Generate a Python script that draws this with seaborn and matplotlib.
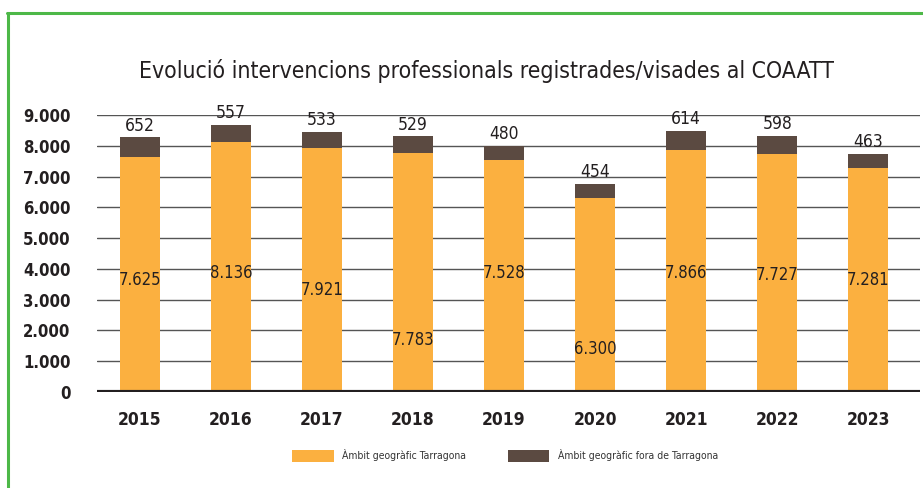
import numpy as np
import pandas as pd
import matplotlib
matplotlib.use('Agg')
import matplotlib.pyplot as plt
from matplotlib.lines import Line2D
from matplotlib.patches import Patch
import seaborn as sns

# data
years = ['2015', '2016', '2017', '2018', '2019', '2020', '2021', '2022', '2023']
tarragona = [7625, 8136, 7921, 7783, 7528, 6300, 7866, 7727, 7281]
fora = [652, 557, 533, 529, 480, 454, 614, 598, 463]
# vertical placement of the inner labels as drawn in the picture
inner_label_y = [3650, 3850, 3300, 1700, 3850, 1400, 3850, 3800, 3650]

ORANGE = '#FBB040'
BROWN = '#5B4A41'
GREEN = '#4DB848'
TEXT = '#231F20'

sns.set_theme(style='white')
plt.rcParams['font.family'] = ['DejaVu Sans']
plt.rcParams['font.stretch'] = 'condensed'


def fmt(v):
    return f'{v:,}'.replace(',', '.')


df = pd.DataFrame({'year': years, 'tarragona': tarragona, 'fora': fora})
df['total'] = df['tarragona'] + df['fora']

fig = plt.figure(figsize=(9.23, 4.88), dpi=100)
ax = fig.add_axes([0.105, 0.197, 0.892, 0.567])

sns.barplot(data=df, x='year', y='total', color=BROWN, width=0.44,
            saturation=1, linewidth=0, ax=ax, zorder=3)
sns.barplot(data=df, x='year', y='tarragona', color=ORANGE, width=0.44,
            saturation=1, linewidth=0, ax=ax, zorder=3)

ax.set_ylim(0, 9000)
ax.set_xlim(-0.47, 8.57)
ax.set_yticks(np.arange(0, 9001, 1000))
ax.set_yticklabels([fmt(v) for v in range(0, 9001, 1000)])
for y in range(1000, 9001, 1000):
    ax.axhline(y, color='#555555', lw=1.0, zorder=1)
ax.axhline(0, color=TEXT, lw=3, zorder=4)

for s in ax.spines.values():
    s.set_visible(False)
ax.set_xlabel('')
ax.set_ylabel('')
ax.tick_params(axis='y', labelsize=12, colors=TEXT, pad=19, length=0)
ax.tick_params(axis='x', labelsize=12.5, colors=TEXT, pad=14, length=0)
for lab in ax.get_xticklabels() + ax.get_yticklabels():
    lab.set_fontweight('bold')

for i in range(len(years)):
    ax.text(i, df['total'][i] + 90, fmt(fora[i]), ha='center', va='bottom',
            fontsize=12.5, color=TEXT)
    ax.text(i, inner_label_y[i], fmt(tarragona[i]), ha='center',
            va='center', fontsize=12, color=TEXT)

fig.text(0.527, 0.855, 'Evolució intervencions professionals registrades/visades al COAATT',
         ha='center', va='center', fontsize=16.5, color=TEXT)

handles = [Patch(facecolor=ORANGE, edgecolor='none'),
           Patch(facecolor=BROWN, edgecolor='none')]
fig.legend(handles, ['Àmbit geogràfic Tarragona',
                     'Àmbit geogràfic fora de Tarragona'],
           loc='center', bbox_to_anchor=(0.547, 0.066), ncol=2, frameon=False,
           fontsize=7.5, handlelength=4.0, handleheight=1.5,
           columnspacing=4.0, handletextpad=0.8, labelcolor='#333333')

# green frame around the chart
fig.add_artist(Line2D([0.009, 0.009], [0, 0.974], color=GREEN, lw=2.2,
                      transform=fig.transFigure))
fig.add_artist(Line2D([0.008, 1.0], [0.973, 0.973], color=GREEN, lw=2.2,
                      transform=fig.transFigure))

fig.savefig('out.png', dpi=100)
